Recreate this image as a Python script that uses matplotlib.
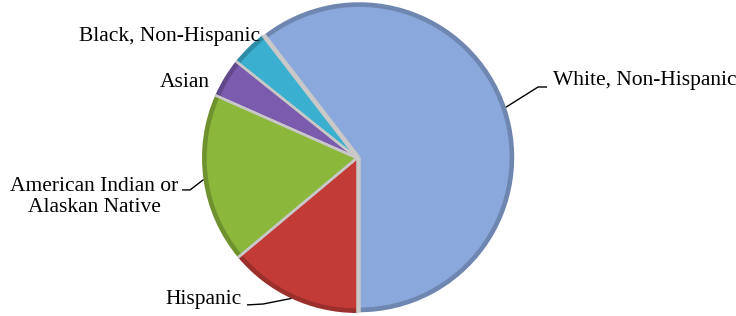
"""
Pie chart: population by race / ethnicity
"""

import numpy as np
import matplotlib
matplotlib.use('Agg')
import matplotlib.pyplot as plt
from matplotlib.colors import to_rgb

# data (percent), counter-clockwise from the bottom
groups = ['White, Non-Hispanic', 'Black, Non-Hispanic', 'Asian',
          'American Indian or\nAlaskan Native', 'Hispanic']
shares = [60.4, 3.8, 4.1, 17.7, 13.9]
colors = ['#8AA8DC', '#3AAFD0', '#7B5BAE', '#8BB73A', '#C23B37']
explode = [0.015, 0, 0, 0, 0]


def darker(c, f=0.8):
    r, g, b = to_rgb(c)
    return (r * f, g * f, b * f)


def main():
    plt.rcParams['font.family'] = ['Liberation Serif', 'DejaVu Serif']

    fig = plt.figure(figsize=(7.36, 3.16), dpi=100)
    ax = fig.add_axes([0, 0, 1, 1])

    # darker rim underneath, main face on top
    ax.pie(shares, colors=[darker(c) for c in colors], explode=explode,
           startangle=270, counterclock=True, radius=1.0,
           wedgeprops=dict(edgecolor='none'))
    wedges, _ = ax.pie(shares, colors=colors, explode=explode,
                       startangle=270, counterclock=True, radius=0.97,
                       wedgeprops=dict(edgecolor='none'))

    # light grey separators between slices
    for w in wedges:
        cx, cy = w.center
        for th in (w.theta1, w.theta2):
            a = np.deg2rad(th)
            ax.plot([cx, cx + np.cos(a)], [cy, cy + np.sin(a)],
                    color='#C8C8C8', lw=1.8, solid_capstyle='butt')

    # layout so that 1 data unit = 155 px and pie centre sits at (357, 158)
    ax.set_xlim(-357 / 155, (736 - 357) / 155)
    ax.set_ylim(-(316 - 158) / 155, 158 / 155)
    ax.set_aspect('equal')
    ax.axis('off')

    # label positions (text anchor, alignment, leader elbow points)
    label_pos = [
        ((1.265, 0.503), 'left', [(1.168, 0.458), (1.226, 0.458)]),
        ((-0.626, 0.787), 'right', None),
        ((-0.948, 0.490), 'right', None),
        ((-1.697, -0.252), 'center', [(-1.077, -0.206), (-1.129, -0.206)]),
        ((-0.742, -0.916), 'right', [(-0.606, -0.942), (-0.710, -0.948)]),
    ]

    for w, name, (xy, ha, elbow) in zip(wedges, groups, label_pos):
        ax.text(xy[0], xy[1], name, ha=ha, va='center', fontsize=15.5,
                linespacing=1.12, multialignment='center')
        if elbow:
            mid = np.deg2rad((w.theta1 + w.theta2) / 2)
            cx, cy = w.center
            start = (cx + np.cos(mid), cy + np.sin(mid))
            pts = [start] + elbow
            ax.plot([p[0] for p in pts], [p[1] for p in pts],
                    color='black', lw=1.0, solid_capstyle='butt')

    plt.savefig('out.png', dpi=100)


if __name__ == "__main__":
    main()
